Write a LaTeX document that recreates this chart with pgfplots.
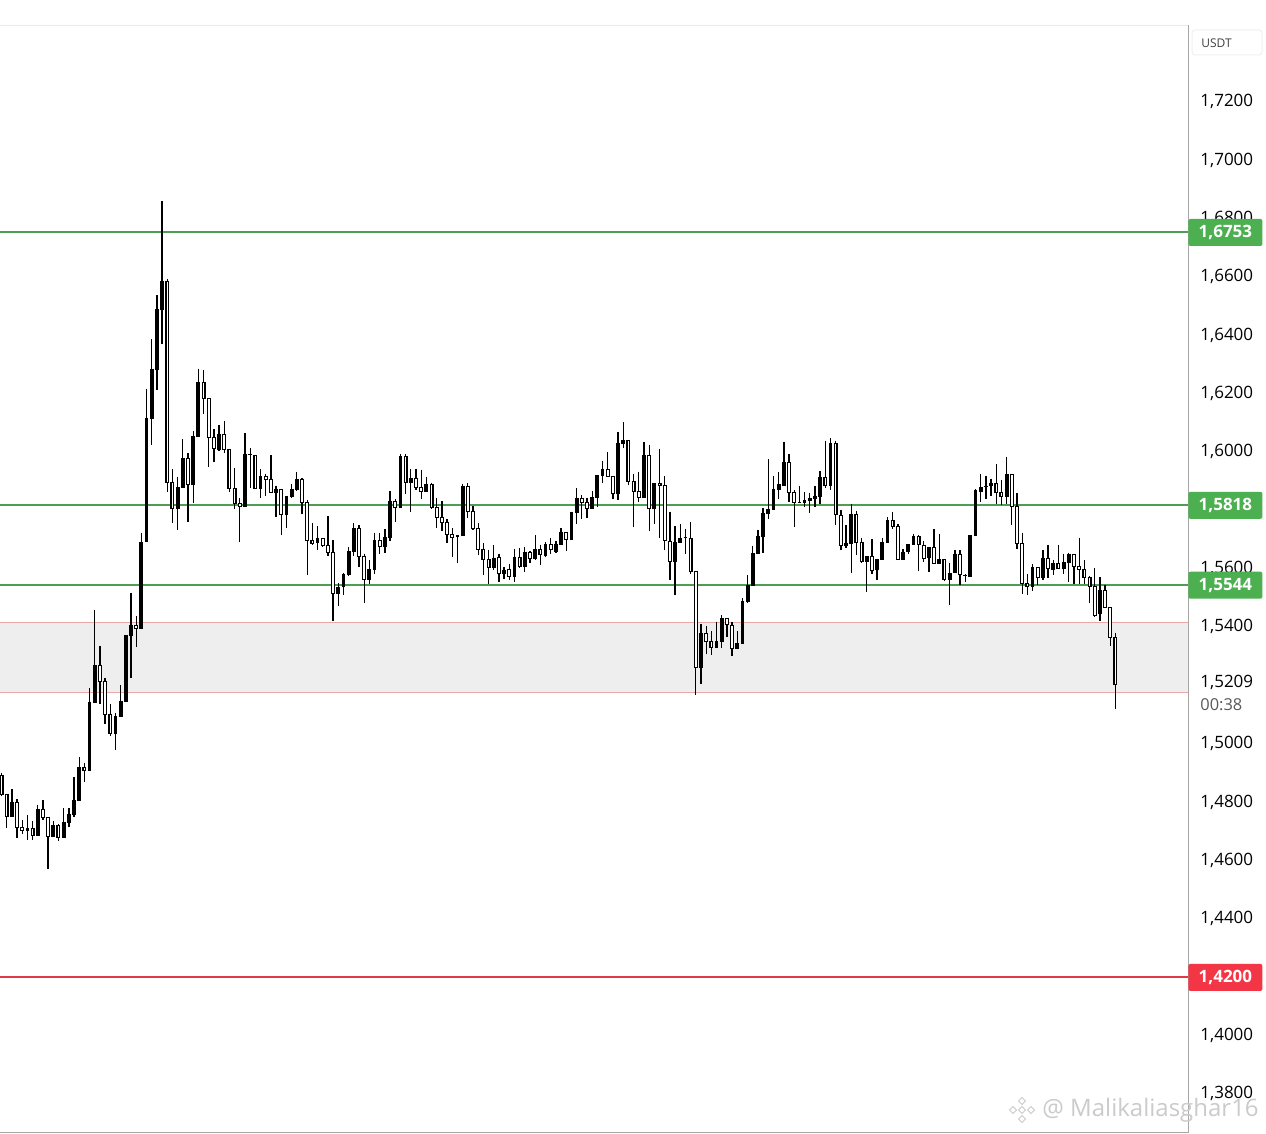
\documentclass[border=0pt]{standalone}
\usepackage{pgfplots}
\usepackage{pgfplotstable}
\usepackage{fontspec}
\pgfplotsset{compat=1.18}
\setmainfont{Open Sans}
\definecolor{tagg}{HTML}{4CAF50}
\definecolor{lineg}{HTML}{4C9F52}
\definecolor{tagr}{HTML}{F23645}
\definecolor{liner}{HTML}{E0394A}
\definecolor{zone}{HTML}{EEEEEE}
\definecolor{zoneb}{HTML}{E8A8A8}
\definecolor{wm}{HTML}{CBCBCB}
\pgfplotstableread{
i hi top bot lo
2 1.4846 1.4802 1.4750 1.4750
5 1.4757 1.4712 1.4702 1.4671
7 1.4791 1.4778 1.4685 1.4685
10 1.4736 1.4722 1.4681 1.4681
12 1.4781 1.4733 1.4678 1.4678
13 1.4781 1.4761 1.4729 1.4715
14 1.4887 1.4808 1.4757 1.4750
15 1.4955 1.4921 1.4805 1.4805
17 1.5192 1.5145 1.4908 1.4908
18 1.5459 1.5271 1.5141 1.5141
22 1.5106 1.5096 1.5035 1.4980
23 1.5202 1.5148 1.5092 1.5092
24 1.5373 1.5373 1.5145 1.5145
25 1.5518 1.5408 1.5370 1.5226
27 1.5723 1.5693 1.5394 1.5394
28 1.6217 1.6117 1.5693 1.5693
29 1.6388 1.6286 1.6114 1.6025
30 1.6539 1.6491 1.6282 1.6213
31 1.6861 1.6587 1.6487 1.6371
34 1.5915 1.5881 1.5806 1.5733
35 1.6046 1.5980 1.5878 1.5878
37 1.6073 1.6056 1.5888 1.5826
38 1.6286 1.6241 1.6052 1.6052
42 1.6093 1.6063 1.6008 1.6004
47 1.6066 1.5994 1.5812 1.5812
48 1.6014 1.5994 1.5990 1.5878
50 1.5943 1.5919 1.5874 1.5843
53 1.5885 1.5874 1.5860 1.5778
55 1.5850 1.5850 1.5785 1.5740
56 1.5892 1.5874 1.5846 1.5843
57 1.5933 1.5909 1.5871 1.5867
61 1.5747 1.5706 1.5689 1.5665
65 1.5552 1.5538 1.5515 1.5473
66 1.5586 1.5583 1.5538 1.5511
67 1.5675 1.5662 1.5579 1.5576
68 1.5757 1.5740 1.5659 1.5645
71 1.5631 1.5600 1.5562 1.5549
72 1.5723 1.5699 1.5596 1.5583
74 1.5737 1.5709 1.5675 1.5655
75 1.5867 1.5833 1.5706 1.5696
77 1.5994 1.5987 1.5809 1.5809
79 1.5943 1.5912 1.5895 1.5796
82 1.5915 1.5892 1.5864 1.5864
88 1.5716 1.5716 1.5709 1.5620
89 1.5892 1.5885 1.5713 1.5713
95 1.5682 1.5638 1.5603 1.5596
97 1.5606 1.5596 1.5583 1.5566
99 1.5669 1.5641 1.5573 1.5556
101 1.5675 1.5659 1.5606 1.5590
103 1.5716 1.5669 1.5634 1.5631
105 1.5693 1.5686 1.5645 1.5641
107 1.5696 1.5686 1.5659 1.5655
108 1.5740 1.5727 1.5682 1.5682
110 1.5796 1.5796 1.5699 1.5699
111 1.5878 1.5843 1.5792 1.5754
114 1.5867 1.5846 1.5806 1.5806
115 1.5922 1.5922 1.5843 1.5812
116 1.5970 1.5943 1.5919 1.5895
119 1.6070 1.6032 1.5857 1.5836
120 1.6104 1.6042 1.6029 1.6014
124 1.6035 1.5990 1.5843 1.5843
126 1.5895 1.5895 1.5806 1.5754
130 1.5747 1.5693 1.5624 1.5511
131 1.5754 1.5706 1.5689 1.5689
132 1.5737 1.5709 1.5706 1.5652
135 1.5412 1.5380 1.5261 1.5206
138 1.5419 1.5353 1.5329 1.5329
139 1.5442 1.5432 1.5350 1.5329
142 1.5387 1.5346 1.5326 1.5326
143 1.5500 1.5490 1.5343 1.5343
144 1.5579 1.5545 1.5487 1.5483
145 1.5679 1.5655 1.5542 1.5542
146 1.5733 1.5713 1.5652 1.5652
147 1.5809 1.5792 1.5709 1.5655
148 1.5977 1.5806 1.5789 1.5771
149 1.5919 1.5874 1.5802 1.5802
150 1.5933 1.5892 1.5871 1.5840
151 1.6035 1.5967 1.5885 1.5885
154 1.5885 1.5830 1.5826 1.5826
155 1.5864 1.5836 1.5826 1.5812
156 1.5860 1.5843 1.5833 1.5792
157 1.5885 1.5850 1.5840 1.5812
158 1.5936 1.5915 1.5846 1.5823
160 1.6049 1.6032 1.5885 1.5871
163 1.5750 1.5689 1.5679 1.5672
164 1.5823 1.5789 1.5686 1.5586
167 1.5645 1.5645 1.5624 1.5522
169 1.5634 1.5634 1.5596 1.5562
170 1.5706 1.5693 1.5631 1.5631
171 1.5778 1.5768 1.5689 1.5689
174 1.5669 1.5659 1.5631 1.5631
175 1.5686 1.5686 1.5659 1.5652
176 1.5720 1.5713 1.5682 1.5682
179 1.5675 1.5675 1.5638 1.5590
181 1.5720 1.5634 1.5617 1.5617
183 1.5620 1.5586 1.5562 1.5476
184 1.5665 1.5652 1.5586 1.5586
186 1.5583 1.5579 1.5576 1.5556
187 1.5716 1.5716 1.5573 1.5573
188 1.5874 1.5871 1.5713 1.5713
189 1.5926 1.5881 1.5864 1.5830
190 1.5919 1.5885 1.5881 1.5840
191 1.5909 1.5895 1.5885 1.5850
194 1.5984 1.5926 1.5846 1.5823
199 1.5617 1.5606 1.5538 1.5525
201 1.5665 1.5638 1.5569 1.5562
203 1.5631 1.5620 1.5596 1.5579
205 1.5652 1.5624 1.5600 1.5583
206 1.5655 1.5652 1.5620 1.5556
212 1.5573 1.5528 1.5446 1.5422
}\blackcandles
\pgfplotstableread{
i hi top bot lo
0 1.4901 1.4894 1.4825 1.4822
1 1.4829 1.4829 1.4750 1.4712
3 1.4812 1.4802 1.4712 1.4678
4 1.4740 1.4715 1.4702 1.4692
6 1.4736 1.4712 1.4685 1.4671
8 1.4808 1.4778 1.4747 1.4740
9 1.4750 1.4750 1.4681 1.4572
11 1.4726 1.4722 1.4678 1.4668
16 1.4935 1.4921 1.4908 1.4870
19 1.5336 1.5271 1.5213 1.5138
20 1.5226 1.5216 1.5099 1.5069
21 1.5138 1.5103 1.5035 1.5028
26 1.5439 1.5408 1.5394 1.5332
32 1.6594 1.6587 1.5895 1.5864
33 1.5943 1.5899 1.5806 1.5757
36 1.5997 1.5980 1.5888 1.5761
39 1.6282 1.6241 1.6183 1.6131
40 1.6186 1.6186 1.6049 1.5949
41 1.6080 1.6052 1.6011 1.5967
43 1.6107 1.6063 1.6008 1.5997
44 1.6011 1.6011 1.5874 1.5864
45 1.5946 1.5878 1.5823 1.5806
46 1.5843 1.5826 1.5812 1.5693
49 1.5990 1.5990 1.5874 1.5874
51 1.5926 1.5919 1.5905 1.5850
52 1.5990 1.5909 1.5860 1.5860
54 1.5874 1.5874 1.5785 1.5716
58 1.5912 1.5909 1.5826 1.5789
59 1.5836 1.5830 1.5696 1.5579
60 1.5757 1.5699 1.5686 1.5682
62 1.5706 1.5706 1.5679 1.5675
63 1.5782 1.5682 1.5655 1.5645
64 1.5699 1.5659 1.5515 1.5422
69 1.5750 1.5740 1.5641 1.5606
70 1.5652 1.5645 1.5562 1.5483
73 1.5723 1.5699 1.5675 1.5652
76 1.5840 1.5833 1.5809 1.5761
78 1.5994 1.5987 1.5895 1.5857
80 1.5943 1.5912 1.5878 1.5871
81 1.5939 1.5881 1.5864 1.5840
83 1.5895 1.5892 1.5809 1.5806
84 1.5843 1.5812 1.5775 1.5740
85 1.5833 1.5778 1.5757 1.5730
86 1.5771 1.5761 1.5716 1.5689
87 1.5740 1.5720 1.5706 1.5641
90 1.5895 1.5885 1.5796 1.5775
91 1.5816 1.5799 1.5737 1.5733
92 1.5757 1.5740 1.5665 1.5648
93 1.5689 1.5669 1.5631 1.5579
94 1.5665 1.5634 1.5603 1.5549
96 1.5652 1.5641 1.5583 1.5556
98 1.5617 1.5600 1.5573 1.5562
100 1.5672 1.5641 1.5606 1.5603
102 1.5662 1.5659 1.5634 1.5620
104 1.5682 1.5669 1.5648 1.5613
106 1.5706 1.5686 1.5665 1.5652
109 1.5727 1.5727 1.5699 1.5662
112 1.5853 1.5843 1.5826 1.5771
113 1.5843 1.5830 1.5806 1.5775
117 1.6001 1.5943 1.5915 1.5915
118 1.5919 1.5919 1.5857 1.5840
121 1.6042 1.6042 1.5899 1.5888
122 1.5926 1.5902 1.5864 1.5744
123 1.5933 1.5867 1.5843 1.5830
125 1.6025 1.5990 1.5806 1.5730
127 1.6011 1.5895 1.5885 1.5706
128 1.5919 1.5888 1.5696 1.5665
129 1.5796 1.5696 1.5624 1.5562
133 1.5761 1.5706 1.5590 1.5583
134 1.5593 1.5593 1.5261 1.5168
136 1.5405 1.5380 1.5350 1.5309
137 1.5387 1.5353 1.5329 1.5305
140 1.5432 1.5432 1.5408 1.5366
141 1.5419 1.5408 1.5326 1.5302
152 1.5994 1.5967 1.5860 1.5830
153 1.5871 1.5864 1.5826 1.5744
159 1.6039 1.5915 1.5885 1.5878
161 1.6039 1.6032 1.5785 1.5750
162 1.5802 1.5785 1.5679 1.5665
165 1.5799 1.5789 1.5689 1.5648
166 1.5706 1.5693 1.5624 1.5620
168 1.5703 1.5645 1.5593 1.5583
172 1.5796 1.5768 1.5744 1.5737
173 1.5754 1.5747 1.5631 1.5631
177 1.5716 1.5713 1.5682 1.5593
178 1.5696 1.5682 1.5634 1.5624
180 1.5737 1.5675 1.5617 1.5617
182 1.5634 1.5634 1.5562 1.5559
185 1.5665 1.5652 1.5579 1.5545
192 1.5960 1.5895 1.5860 1.5823
193 1.5905 1.5864 1.5846 1.5819
195 1.5926 1.5926 1.5812 1.5750
196 1.5860 1.5816 1.5686 1.5669
197 1.5723 1.5689 1.5549 1.5515
198 1.5583 1.5552 1.5538 1.5511
200 1.5606 1.5606 1.5569 1.5545
202 1.5682 1.5638 1.5600 1.5569
204 1.5682 1.5620 1.5600 1.5600
207 1.5652 1.5652 1.5606 1.5549
208 1.5706 1.5610 1.5596 1.5549
209 1.5631 1.5600 1.5569 1.5549
210 1.5576 1.5573 1.5538 1.5483
211 1.5603 1.5542 1.5439 1.5435
213 1.5545 1.5528 1.5466 1.5466
214 1.5469 1.5469 1.5363 1.5336
215 1.5380 1.5366 1.5202 1.5120
}\whitecandles
\tikzset{pricetag/.style={anchor=west,fill=#1,rounded corners=1pt,inner sep=0pt,minimum width=37pt,minimum height=13.5pt,text=white,font=\fontsize{8.5pt}{10pt}\selectfont\bfseries}}
\begin{document}
\begin{tikzpicture}[x=0.5pt,y=0.5pt]
\fill[white] (0,0) rectangle (1266,1134);
\useasboundingbox (0,0) rectangle (1266,1134);
\begin{axis}[
  at={(0pt,0.5pt)},anchor=south west,
  scale only axis,width=594pt,height=554pt,
  xmin=-0.29,xmax=229.0,
  ymin=1.36669,ymax=1.74640,
  clip mode=individual,
  axis y line*=right,axis x line*=bottom,
  axis line style={color=black!35,line width=0.5pt,-},
  xtick=\empty,
  ytick={1.38,1.40,1.44,1.46,1.48,1.50,1.5209,1.54,1.56,1.60,1.62,1.64,1.66,1.68,1.70,1.72},
  major tick length=0pt,
  tick style={draw=none},
  scaled y ticks=false,
  yticklabel style={anchor=west,inner sep=0pt,xshift=6pt,yshift=0.2pt,font=\fontsize{8.5pt}{10pt}\selectfont,
    /pgf/number format/.cd,fixed,fixed zerofill,precision=4,use comma,1000 sep={},assume math mode=true},
]
% demand zone
\addplot[fill=zone,draw=none,forget plot] coordinates {(-0.29,1.51748)(229.0,1.51748)(229.0,1.54147)(-0.29,1.54147)} --cycle;
\addplot[zoneb,line width=0.5pt,forget plot] coordinates {(-0.29,1.54147)(229.0,1.54147)};
\addplot[zoneb,line width=0.5pt,forget plot] coordinates {(-0.29,1.51748)(229.0,1.51748)};
% levels
\addplot[lineg,line width=1pt,forget plot] coordinates {(-0.29,1.6753)(229.0,1.6753)};
\addplot[lineg,line width=1pt,forget plot] coordinates {(-0.29,1.5818)(229.0,1.5818)};
\addplot[lineg,line width=1pt,forget plot] coordinates {(-0.29,1.5544)(229.0,1.5544)};
\addplot[liner,line width=1pt,forget plot] coordinates {(-0.29,1.4200)(229.0,1.4200)};
% wicks
\addplot[draw=none,no markers,forget plot,
  error bars/.cd,y dir=both,y explicit,error mark=none,
  error bar style={draw=black,line width=0.65pt,line cap=butt}]
  table[x=i,y expr=\thisrow{hi},y error plus expr=0,y error minus expr=\thisrow{hi}-\thisrow{lo}] {\blackcandles};
\addplot[draw=none,no markers,forget plot,
  error bars/.cd,y dir=both,y explicit,error mark=none,
  error bar style={draw=black,line width=0.65pt,line cap=butt}]
  table[x=i,y expr=\thisrow{hi},y error plus expr=0,y error minus expr=\thisrow{hi}-\thisrow{lo}] {\whitecandles};
% filled bodies
\addplot[draw=none,no markers,forget plot,
  error bars/.cd,y dir=both,y explicit,error mark=none,
  error bar style={draw=black,line width=1.9pt,line cap=butt}]
  table[x=i,y expr=\thisrow{top},y error plus expr=0,y error minus expr=\thisrow{top}-\thisrow{bot}] {\blackcandles};
% hollow bodies: outline then inside
\addplot[draw=none,no markers,forget plot,
  error bars/.cd,y dir=both,y explicit,error mark=none,
  error bar style={draw=black,line width=2pt,line cap=butt}]
  table[x=i,y expr=\thisrow{top},y error plus expr=0,y error minus expr=\thisrow{top}-\thisrow{bot}] {\whitecandles};
\addplot[draw=none,no markers,forget plot,
  error bars/.cd,y dir=both,y explicit,error mark=none,
  error bar style={draw=white,line width=0.8pt,line cap=butt}]
  table[x=i,y expr={(\thisrow{top}+\thisrow{bot})/2},
        y error expr={max(0,(\thisrow{top}-\thisrow{bot})/2-0.0003)}] {\whitecandles};
% price tags
\node[pricetag=tagg] at (axis cs:229.0,1.6753) {1,6753};
\node[pricetag=tagg] at (axis cs:229.0,1.5818) {1,5818};
\node[pricetag=tagg] at (axis cs:229.0,1.5544) {1,5544};
\node[pricetag=tagr] at (axis cs:229.0,1.4200) {1,4200};
\end{axis}
% top hairline
\draw[black!8,line width=0.5pt] (0,1108.5) -- (1188,1108.5);
% currency box
\draw[black!6,line width=0.5pt,rounded corners=1.5pt,fill=white] (1192,1079) rectangle (1262,1104);
\node[anchor=west,inner sep=0pt,font=\fontsize{6pt}{7pt}\selectfont,text=black!75] at (1201,1091) {USDT};
% countdown
\node[anchor=west,inner sep=0pt,font=\fontsize{8.2pt}{10pt}\selectfont,text=black!65] at (1200,429) {00:38};
% watermark
\begin{scope}[wm,shift={(1022,24)}]
  \draw[line width=0.5pt,fill=white] (0,3.5) -- (3.5,0) -- (0,-3.5) -- (-3.5,0) -- cycle;
  \draw[line width=0.5pt,fill=white] (-9,3.5) -- (-5.5,0) -- (-9,-3.5) -- (-12.5,0) -- cycle;
  \draw[line width=0.5pt,fill=white] (9,3.5) -- (12.5,0) -- (9,-3.5) -- (5.5,0) -- cycle;
  \draw[line width=0.5pt,fill=white] (0,12.5) -- (3.5,9) -- (0,5.5) -- (-3.5,9) -- cycle;
  \draw[line width=0.5pt,fill=white] (0,-5.5) -- (3.5,-9) -- (0,-12.5) -- (-3.5,-9) -- cycle;
\end{scope}
\node[anchor=west,inner sep=0pt,text=wm,font=\fontsize{12pt}{14pt}\selectfont] at (1042,24) {@ Malikaliasghar16};
\end{tikzpicture}
\end{document}
